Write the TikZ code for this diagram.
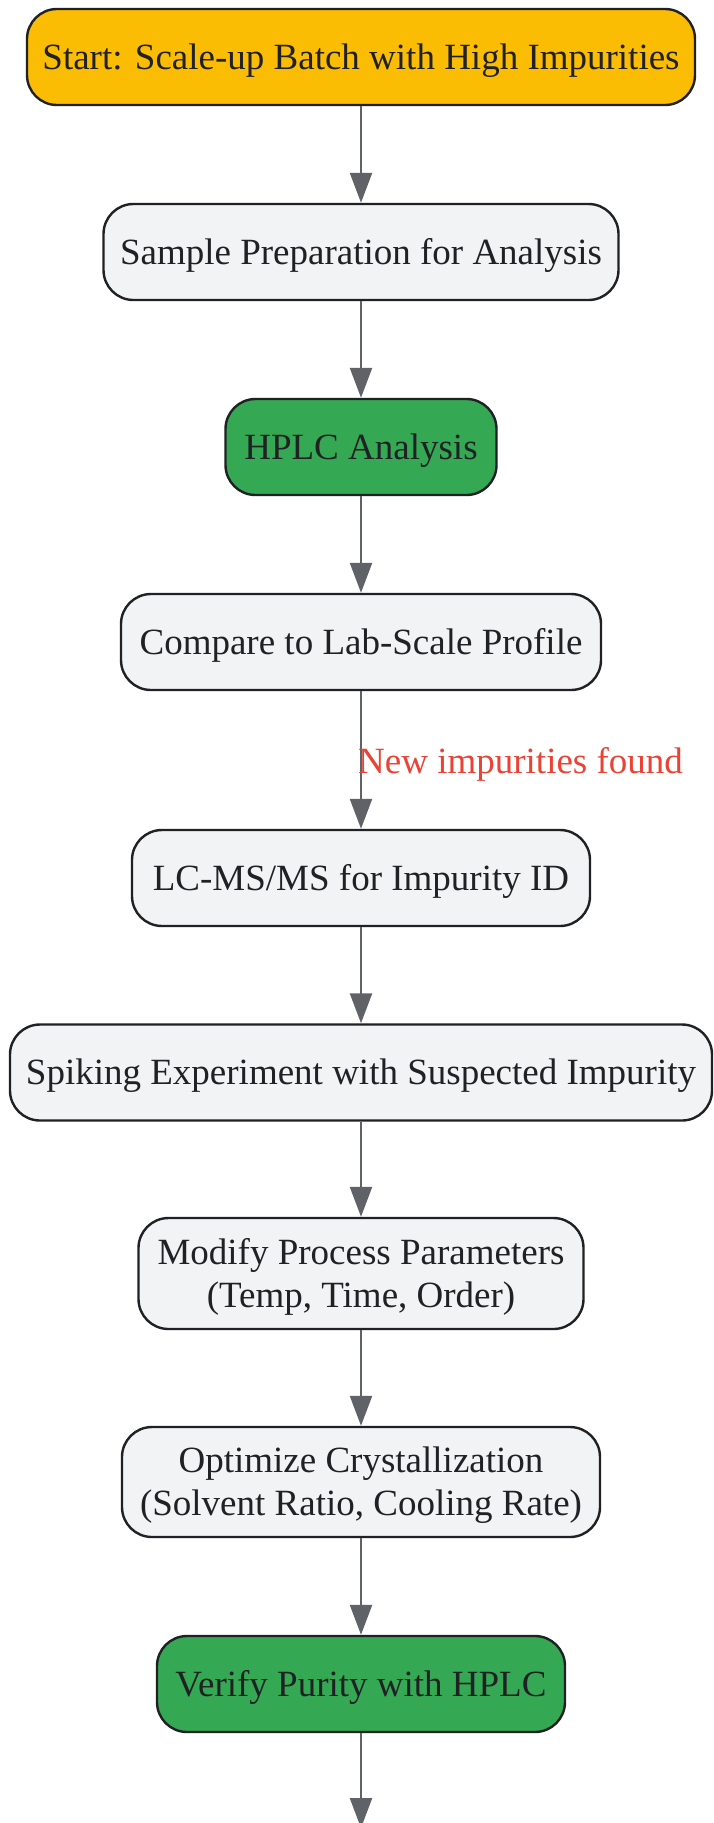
\documentclass[tikz,border=0pt]{standalone}
\usepackage{fontspec}
\setmainfont{Liberation Serif}
\usetikzlibrary{arrows.meta}
\definecolor{yel}{HTML}{FBBC04}
\definecolor{grn}{HTML}{34A853}
\definecolor{lgray}{HTML}{F1F3F4}
\definecolor{bord}{HTML}{202124}
\definecolor{arr}{HTML}{5F6368}
\definecolor{lbl}{HTML}{EA4335}
\newcommand\tx[1]{\raisebox{-3.5pt}[\height][\depth]{\begin{tabular}{@{}c@{}}#1\end{tabular}}}
\begin{document}
\begin{tikzpicture}[x=1pt,y=-1pt,
  box/.style={draw=bord, line width=2.4pt, rounded corners=30pt, inner sep=0pt,
    text=bord, font=\fontsize{37}{43}\selectfont, minimum height=96pt},
  gbox/.style={box, fill=lgray},
  ybox/.style={box, fill=yel},
  grbox/.style={box, fill=grn},
  flow/.style={draw=arr, line width=2.4pt, -{Triangle[width=22pt,length=30pt]}},
  lab/.style={text=lbl, font=\fontsize{37}{43}\selectfont, inner sep=0pt}]
\useasboundingbox (0,0) rectangle (713,1823);
\node[ybox, minimum width=668pt] (n1) at (361,57) {\tx{Start: Scale-up Batch with High Impurities}};
\node[gbox, minimum width=515pt] (n2) at (361,252) {\tx{Sample Preparation for Analysis}};
\node[grbox, minimum width=271pt] (n3) at (361,447) {\tx{HPLC Analysis}};
\node[gbox, minimum width=480pt] (n4) at (361,642) {\tx{Compare to Lab-Scale Profile}};
\node[gbox, minimum width=458pt] (n5) at (361,878) {\tx{LC-MS/MS for Impurity ID}};
\node[gbox, minimum width=702pt] (n6) at (361,1072.5) {\tx{Spiking Experiment with Suspected Impurity}};
\node[gbox, minimum width=445pt, minimum height=111pt] (n7) at (361,1273.5) {\tx{Modify Process Parameters\\(Temp, Time, Order)}};
\node[gbox, minimum width=478pt, minimum height=110pt] (n8) at (361,1482) {\tx{Optimize Crystallization\\(Solvent Ratio, Cooling Rate)}};
\node[grbox, minimum width=408pt] (n9) at (361,1684) {\tx{Verify Purity with HPLC}};
\coordinate (end) at (361,1828);
\draw[flow] (n1) -- (n2);
\draw[flow] (n2) -- (n3);
\draw[flow] (n3) -- (n4);
\draw[flow] (n4) -- (n5) node[lab, pos=0.5, anchor=west, xshift=-4pt, yshift=-1pt] (l1) {\tx{New impurities found}};
\draw[flow] (n5) -- (n6);
\draw[flow] (n6) -- (n7);
\draw[flow] (n7) -- (n8);
\draw[flow] (n8) -- (n9);
\draw[flow] (n9) -- (end);
\end{tikzpicture}
\end{document}
